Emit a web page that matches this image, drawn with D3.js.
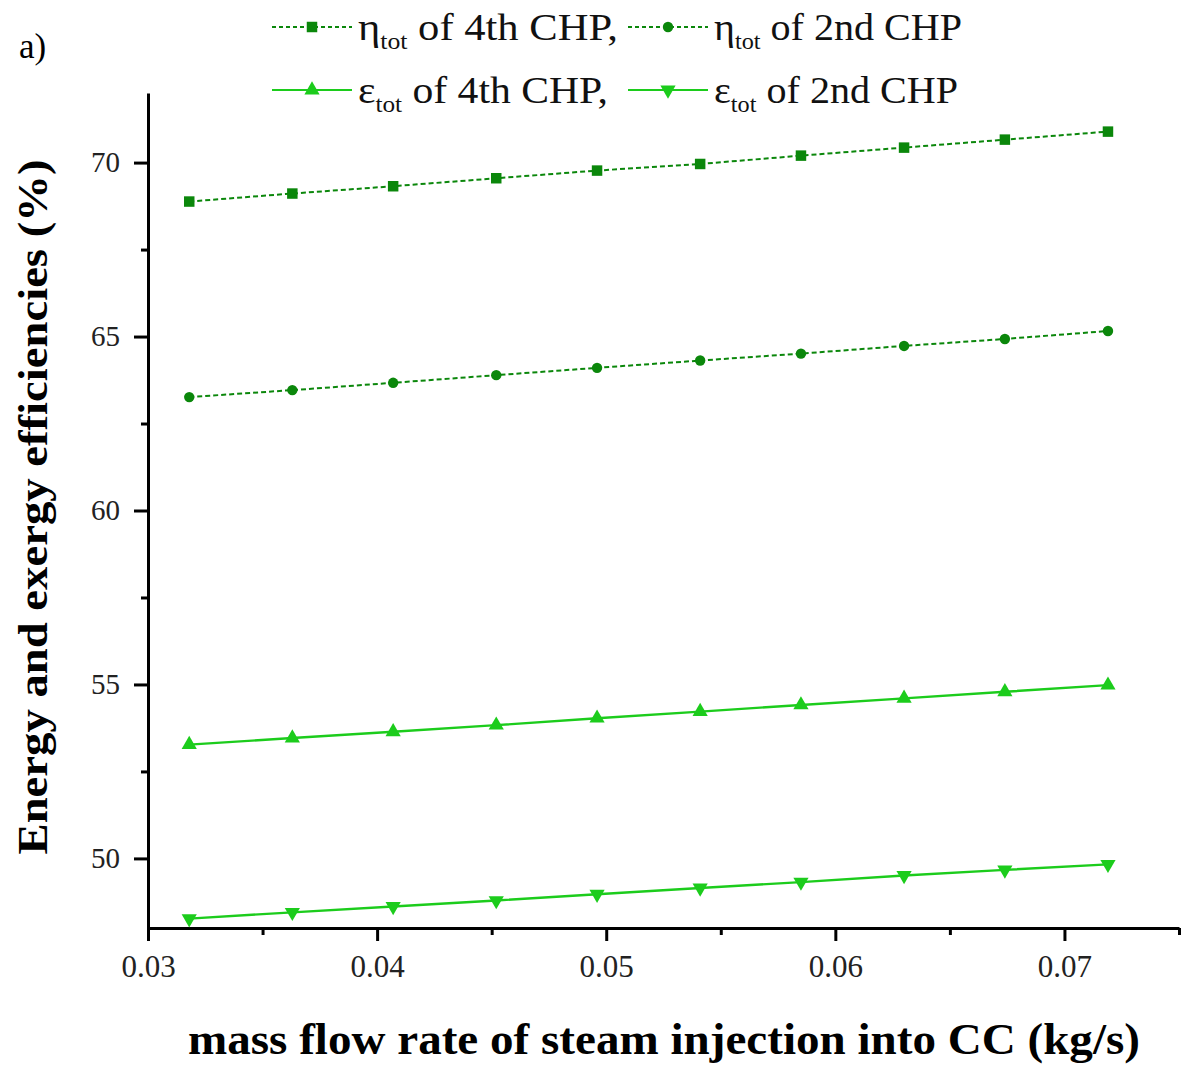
<!DOCTYPE html>
<html>
<head>
<meta charset="utf-8">
<script src="https://cdn.jsdelivr.net/npm/d3@7"></script>
<style>
  html, body { margin: 0; padding: 0; background: #fff; }
  svg { display: block; }
  svg text { font-family: "Liberation Serif", "Times New Roman", Times, serif; }
</style>
</head>
<body>
<svg id="chart" width="1181" height="1068"></svg>
<script>
// Steam injection mass flow rate into the combustion chamber (kg/s)
const massFlow = [0.0318, 0.0363, 0.0407, 0.0452, 0.0496, 0.0541, 0.0585, 0.0630, 0.0674, 0.0719];

// Total energy efficiency (%)
const etaTot4th = [68.88, 69.11, 69.32, 69.55, 69.77, 69.96, 70.20, 70.43, 70.66, 70.89];
const etaTot2nd = [63.26, 63.46, 63.67, 63.89, 64.10, 64.31, 64.51, 64.73, 64.93, 65.16];

// Total exergy efficiency (%)
const epsTot4th = [53.27, 53.46, 53.64, 53.83, 54.03, 54.22, 54.41, 54.60, 54.79, 54.98];
const epsTot2nd = [48.27, 48.45, 48.62, 48.79, 48.97, 49.15, 49.32, 49.51, 49.67, 49.83];

const xTicks = [0.03, 0.04, 0.05, 0.06, 0.07];
const yTicks = [50, 55, 60, 65, 70];

const seriesList = [
  { sym: "η", name: " of 4th CHP,", values: etaTot4th, marker: "square",       color: "#0b870b", dashed: true },
  { sym: "η", name: " of 2nd CHP",  values: etaTot2nd, marker: "circle",       color: "#0b870b", dashed: true },
  { sym: "ε", name: " of 4th CHP,", values: epsTot4th, marker: "triangle",     color: "#1ccc1c", dashed: false },
  { sym: "ε", name: " of 2nd CHP",  values: epsTot2nd, marker: "triangleDown", color: "#1ccc1c", dashed: false }
];

const SERIF = '"Liberation Serif", "Times New Roman", Times, serif';

const svg = d3.select("#chart");
const plot = { left: 148, right: 1179, top: 93, bottom: 928 };

const x = d3.scaleLinear().domain([0.03, 0.075]).range([plot.left, plot.right]);
const y = d3.scaleLinear().domain([48, 72]).range([plot.bottom, plot.top]);

// Minor ticks halfway between the majors
const xMinor = [0.035, 0.045, 0.055, 0.065, 0.075];
const yMinor = [52.5, 57.5, 62.5, 67.5];

// Axes
const xAxis = svg.append("g").attr("transform", `translate(0,${plot.bottom})`);
xAxis.call(d3.axisBottom(x).tickValues(xTicks).tickFormat(d3.format(".2f")).tickSizeInner(13).tickSizeOuter(0).tickPadding(14));
xAxis.append("g").call(d3.axisBottom(x).tickValues(xMinor).tickFormat("").tickSizeInner(7).tickSizeOuter(0))
  .select(".domain").remove();
xAxis.selectAll(".tick text").style("font-size", "31px");

const yAxis = svg.append("g").attr("transform", `translate(${plot.left},0)`);
yAxis.call(d3.axisLeft(y).tickValues(yTicks).tickFormat(d3.format("d")).tickSizeInner(14).tickSizeOuter(0).tickPadding(14));
yAxis.append("g").call(d3.axisLeft(y).tickValues(yMinor).tickFormat("").tickSizeInner(7).tickSizeOuter(0))
  .select(".domain").remove();
yAxis.selectAll(".tick text").style("font-size", "29px");

svg.selectAll(".domain").attr("stroke", "#000").attr("stroke-width", 3);
svg.selectAll(".tick line").attr("stroke", "#000").attr("stroke-width", 3);
svg.selectAll(".tick text").style("font-family", SERIF).attr("fill", "#222");

// Axis titles
svg.append("text")
  .attr("x", 664).attr("y", 1054)
  .attr("text-anchor", "middle")
  .style("font-family", SERIF).style("font-size", "45px").style("font-weight", "bold")
  .attr("textLength", 952).attr("lengthAdjust", "spacingAndGlyphs")
  .text("mass flow rate of steam injection into CC (kg/s)");

svg.append("text")
  .attr("transform", "translate(47,507) rotate(-90)")
  .attr("text-anchor", "middle")
  .style("font-family", SERIF).style("font-size", "42px").style("font-weight", "bold")
  .attr("textLength", 695).attr("lengthAdjust", "spacingAndGlyphs")
  .text("Energy and exergy efficiencies (%)");

svg.append("text").attr("x", 19).attr("y", 58)
  .style("font-family", SERIF).style("font-size", "35px").text("a)");

// Marker symbols
const symbolFor = {
  square: d3.symbol().type(d3.symbolSquare).size(110),
  circle: d3.symbol().type(d3.symbolCircle).size(85),
  triangle: d3.symbol().type(d3.symbolTriangle).size(100),
  triangleDown: d3.symbol().type(d3.symbolTriangle).size(100)
};

function drawMarker(g, s, cx, cy) {
  g.append("path")
    .attr("d", symbolFor[s.marker]())
    .attr("transform", `translate(${cx},${cy})` + (s.marker === "triangleDown" ? " rotate(180)" : ""))
    .attr("fill", s.color);
}

const line = d3.line().x(d => x(d[0])).y(d => y(d[1]));

seriesList.forEach(s => {
  const pts = massFlow.map((m, i) => [m, s.values[i]]);
  svg.append("path")
    .datum(pts)
    .attr("d", line)
    .attr("fill", "none")
    .attr("stroke", s.color)
    .attr("stroke-width", s.dashed ? 2 : 2.4)
    .attr("stroke-dasharray", s.dashed ? "5,3" : null);
  const g = svg.append("g");
  pts.forEach(p => drawMarker(g, s, x(p[0]), y(p[1])));
});

// Legend, two entries per row
const legendPos = [
  { lx: 272, ly: 27, w: 260 }, { lx: 628, ly: 27, w: 248 },
  { lx: 272, ly: 90, w: 250 }, { lx: 628, ly: 90, w: 244 }
];
seriesList.forEach((s, i) => {
  const { lx, ly, w } = legendPos[i];
  const g = svg.append("g");
  g.append("line")
    .attr("x1", lx).attr("x2", lx + 80).attr("y1", ly).attr("y2", ly)
    .attr("stroke", s.color).attr("stroke-width", 2)
    .attr("stroke-dasharray", s.dashed ? "4,3" : null);
  drawMarker(g, s, lx + 40, ly);
  const t = g.append("text")
    .attr("x", lx + 86).attr("y", ly + 13)
    .style("font-family", SERIF).style("font-size", "38px").attr("fill", "#111")
    .attr("textLength", w).attr("lengthAdjust", "spacingAndGlyphs");
  t.append("tspan").text(s.sym);
  t.append("tspan").style("font-size", "23px").attr("dy", 9).text("tot");
  t.append("tspan").attr("dy", -9).text(s.name);
});
</script>
</body>
</html>
